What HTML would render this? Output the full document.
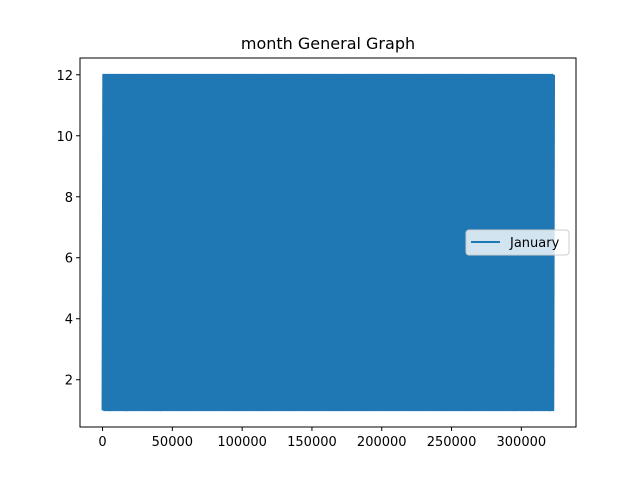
<!DOCTYPE html>
<html><head><meta charset="utf-8"><style>
html,body{margin:0;padding:0;background:#fff;}
svg{display:block;font-family:"DejaVu Sans","Liberation Sans",sans-serif;}
</style></head><body>
<svg id="chart" width="640" height="480">
<rect x="0" y="0" width="640" height="480" fill="#fff"/>
<text x="328" y="49" font-size="16" text-anchor="middle" fill="#000">month General Graph</text>
<g id="plot"></g>
<g id="axes"></g>
</svg>
<script>
const xTicks = [0, 50000, 100000, 150000, 200000, 250000, 300000];
const xTickLabels = ["0", "50000", "100000", "150000", "200000", "250000", "300000"];
const yTicks = [2, 4, 6, 8, 10, 12];
const yTickLabels = ["2", "4", "6", "8", "10", "12"];
const seriesName = "January";
const xStart = 0;
const xEnd = 323400;
const monthValues = [
1,12,1,12,1,12,1,12,1,12,1,12,1,12,1,12,1,12,1,12,
1,12,1,12,1,12,1,12,1,12,1,12,1,12,1,12,1,12,1,12,
1,12,1,12,1,12,1,12,1,12,1,12,1,12,1,12,1,12,1,12,
1,12,1,12,1,12,1,12,1,12,1,12,1,12,1,12,1,12,1,12,
1,12,1,12,1,12,1,12,1,12,1,12,1,12,1,12,1,12,1,12,
1,12,1,12,1,12,1,12,1,12,1,12,1,12,1,12,1,12,1,12,
1,12,1,12,1,12,1,12,1,12,1,12,1,12,1,12,1,12,1,12,
1,12,1,12,1,12,1,12,1,12,1,12,1,12,1,12,1,12,1,12,
1,12,1,12,1,12,1,12,1,12,1,12,1,12,1,12,1,12,1,12,
1,12,1,12,1,12,1,12,1,12,1,12,1,12,1,12,1,12,1,12,
1,12,1,12,1,12,1,12,1,12,1,12,1,12,1,12,1,12,1,12,
1,12,1,12,1,12,1,12,1,12,1,12,1,12,1,12,1,12,1,12,
1,12,1,12,1,12,1,12,1,12,1,12,1,12,1,12,1,12,1,12,
1,12,1,12,1,12,1,12,1,12,1,12,1,12,1,12,1,12,1,12,
1,12,1,12,1,12,1,12,1,12,1,12,1,12,1,12,1,12,1,12,
1,12,1,12,1,12,1,12,1,12,1,12,1,12,1,12,1,12,1,12,
1,12,1,12,1,12,1,12,1,12,1,12,1,12,1,12,1,12,1,12,
1,12,1,12,1,12,1,12,1,12,1,12,1,12,1,12,1,12,1,12,
1,12,1,12,1,12,1,12,1,12,1,12,1,12,1,12,1,12,1,12,
1,12,1,12,1,12,1,12,1,12,1,12,1,12,1,12,1,12,1,12,
1,12,1,12,1,12,1,12,1,12,1,12,1,12,1,12,1,12,1,12,
1,12,1,12,1,12,1,12,1,12,1,12,1,12,1,12,1,12,1,12,
1,12,1,12,1,12,1,12,1,12,1,12,1,12,1,12,1,12,1,12,
1,12,1,12,1,12,1,12,1,12,1,12,1,12,1,12,1,12,1,12,
1,12,1,12,1,12,1,12,1,12,1,12,1,12,1,12,1,12,1,12,
1,12,1,12,1,12,1,12,1,12,1,12,1,12,1,12,1,12,1,12,
1,12,1,12,1,12,1,12,1,12,1,12,1,12,1,12,1,12,1,12,
1,12,1,12,1,12,1,12,1,12,1,12,1,12,1,12,1,12,1,12,
1,12,1,12,1,12,1,12,1,12,1,12,1,12,1,12,1,12,1,12,
1,12,1,12,1,12,1,12,1,12,1,12,1,12,1,12,1,12,1,12
];

const L = 80, R = 576, T = 58, B = 427;
const xMin = -16150, xMax = 339150, yMin = 0.45, yMax = 12.55;
function xs(v){ return L + (v - xMin) / (xMax - xMin) * (R - L); }
function ys(v){ return B - (v - yMin) / (yMax - yMin) * (B - T); }

const NS = "http://www.w3.org/2000/svg";
const plot = document.getElementById('plot');
const axes = document.getElementById('axes');

const n = monthValues.length;
let pts = [];
for (let i = 0; i < n; i++) {
  const xv = xStart + (xEnd - xStart) * i / (n - 1);
  pts.push(xs(xv).toFixed(2) + "," + ys(monthValues[i]).toFixed(2));
}
const line = document.createElementNS(NS, 'polyline');
line.setAttribute('points', pts.join(' '));
line.setAttribute('fill', 'none');
line.setAttribute('stroke', '#1f77b4');
line.setAttribute('stroke-width', '2');
line.setAttribute('stroke-linejoin', 'round');


plot.appendChild(line);

const frame = document.createElementNS(NS, 'rect');
frame.setAttribute('x', L); frame.setAttribute('y', T);
frame.setAttribute('width', R - L); frame.setAttribute('height', B - T);
frame.setAttribute('fill', 'none'); frame.setAttribute('stroke', '#000'); frame.setAttribute('stroke-width', '1');


axes.appendChild(frame);

xTicks.forEach((t, i) => {
  const x = xs(t);
  const tk = document.createElementNS(NS, 'line');
  tk.setAttribute('x1', x); tk.setAttribute('x2', x);
  tk.setAttribute('y1', B); tk.setAttribute('y2', B + 4);
  tk.setAttribute('stroke', '#000');
  
  
  axes.appendChild(tk);
  const tx = document.createElementNS(NS, 'text');
  tx.setAttribute('x', x); tx.setAttribute('y', B + 19);
  tx.setAttribute('font-size', '13'); tx.setAttribute('text-anchor', 'middle');
  tx.textContent = xTickLabels[i];
  
  
  axes.appendChild(tx);
});
yTicks.forEach((t, i) => {
  const y = ys(t);
  const tk = document.createElementNS(NS, 'line');
  tk.setAttribute('x1', L - 4); tk.setAttribute('x2', L);
  tk.setAttribute('y1', y); tk.setAttribute('y2', y);
  tk.setAttribute('stroke', '#000');
  
  
  axes.appendChild(tk);
  const tx = document.createElementNS(NS, 'text');
  tx.setAttribute('x', L - 7); tx.setAttribute('y', y + 5);
  tx.setAttribute('font-size', '13'); tx.setAttribute('text-anchor', 'end');
  tx.textContent = yTickLabels[i];
  
  
  axes.appendChild(tx);
});

const lg = document.createElementNS(NS, 'g');


const box = document.createElementNS(NS, 'rect');
box.setAttribute('x', 466); box.setAttribute('y', 230); box.setAttribute('width', 103); box.setAttribute('height', 25);
box.setAttribute('rx', 3); box.setAttribute('fill', 'rgba(255,255,255,0.8)'); box.setAttribute('stroke', '#ccc');


lg.appendChild(box);
const ll = document.createElementNS(NS, 'line');
ll.setAttribute('x1', 471); ll.setAttribute('x2', 500); ll.setAttribute('y1', 242); ll.setAttribute('y2', 242);
ll.setAttribute('stroke', '#1f77b4'); ll.setAttribute('stroke-width', '2');


lg.appendChild(ll);
const lt = document.createElementNS(NS, 'text');
lt.setAttribute('x', 510); lt.setAttribute('y', 247); lt.setAttribute('font-size', '13');
lt.textContent = seriesName;


lg.appendChild(lt);
axes.appendChild(lg);
</script>
</body></html>
